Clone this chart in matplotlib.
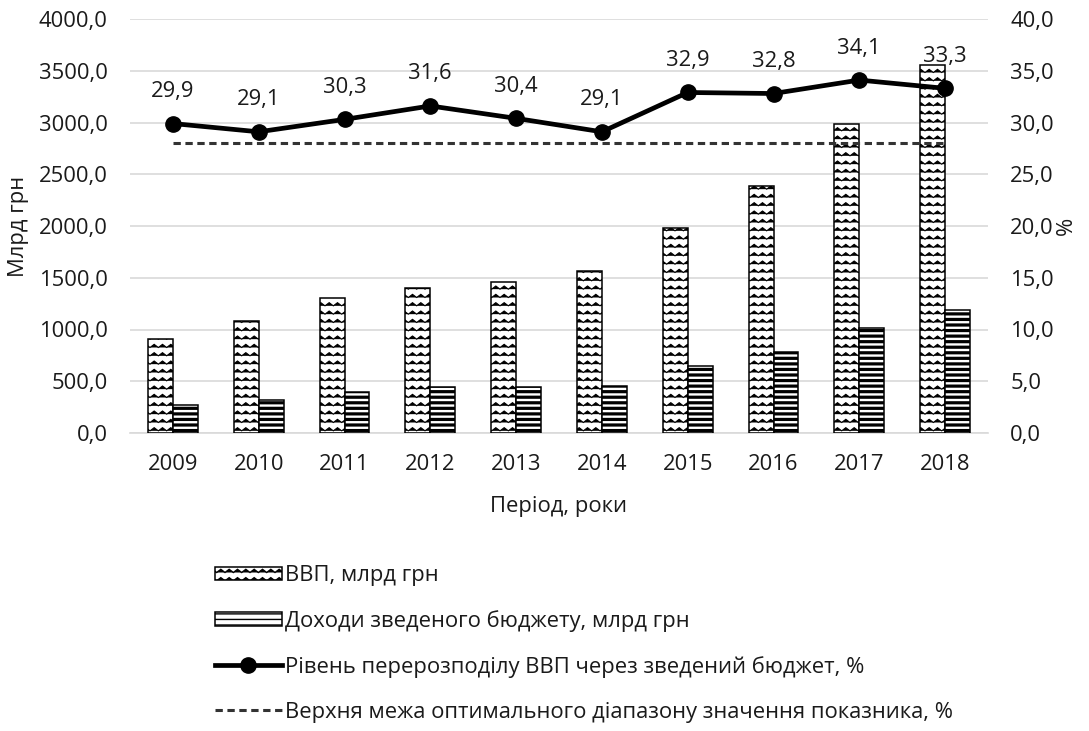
import warnings
import numpy as np
import matplotlib
matplotlib.use("Agg")
import matplotlib.pyplot as plt
import matplotlib.hatch as mhatch
from matplotlib.path import Path
from matplotlib.ticker import FuncFormatter, MultipleLocator

warnings.filterwarnings("ignore")

# ---------------- data ----------------
years = ["2009", "2010", "2011", "2012", "2013", "2014", "2015", "2016", "2017", "2018"]
gdp = [913, 1082, 1302, 1405, 1455, 1567, 1979, 2383, 2983, 3559]
revenues = [273, 315, 399, 443, 443, 456, 652, 782, 1017, 1185]
redistribution = [29.9, 29.1, 30.3, 31.6, 30.4, 29.1, 32.9, 32.8, 34.1, 33.3]
upper_limit = [28.0] * len(years)

label_gdp = "ВВП, млрд грн"
label_rev = "Доходи зведеного бюджету, млрд грн"
label_red = "Рівень перерозподілу ВВП через зведений бюджет, %"
label_lim = "Верхня межа оптимального діапазону значення показника, %"


# ---------------- custom zigzag hatch ----------------
class ZigZagHatch(mhatch.HatchPatternBase):
    def __init__(self, hatch, density):
        self.num_rows = int(hatch.count('z') * density)
        self.periods = 12
        self.pts = 2 * self.periods + 1
        self.num_vertices = self.num_rows * self.pts

    def set_vertices_and_codes(self, vertices, codes):
        if self.num_rows == 0:
            return
        step = 1.0 / self.num_rows
        xs = np.linspace(0, 1, self.pts)
        amp = step * 0.38
        ys = np.where(np.arange(self.pts) % 2 == 1, amp, 0.0)
        for i in range(self.num_rows):
            y0 = i * step + step * 0.3
            sl = slice(i * self.pts, (i + 1) * self.pts)
            vertices[sl, 0] = xs
            vertices[sl, 1] = y0 + ys
            codes[sl] = Path.LINETO
            codes[i * self.pts] = Path.MOVETO


if ZigZagHatch not in mhatch._hatch_types:
    mhatch._hatch_types.append(ZigZagHatch)

FONT = "Open Sans"
plt.rcParams["font.family"] = [FONT, "DejaVu Sans"]
TXT = "#1a1a1a"
FS = 15.8

fig = plt.figure(figsize=(10.89, 7.31), dpi=100)
ax = fig.add_axes([130 / 1089, 1 - 433 / 731, 858 / 1089, (433 - 19) / 731])
ax2 = ax.twinx()

x = np.arange(len(years))
bw = 0.29
bars1 = ax.bar(x - bw / 2, gdp, bw, facecolor="white", edgecolor="black",
               linewidth=1.1, hatch="zz", label=label_gdp, zorder=3)
bars2 = ax.bar(x + bw / 2, revenues, bw, facecolor="white", edgecolor="black",
               linewidth=1.1, hatch="---", label=label_rev, zorder=3)
for b in bars1:
    if hasattr(b, "set_hatch_linewidth"):
        b.set_hatch_linewidth(0.8)
for b in bars2:
    if hasattr(b, "set_hatch_linewidth"):
        b.set_hatch_linewidth(2.3)

ax.set_ylim(0, 4000)
ax.set_xlim(-0.5, len(years) - 0.5)
ax.yaxis.set_major_locator(MultipleLocator(500))
ax.yaxis.set_major_formatter(FuncFormatter(lambda v, p: f"{v:.1f}".replace(".", ",")))
ax.grid(axis="y", color="#d9d9d9", linewidth=1.2, zorder=0)
ax.set_axisbelow(True)
ax.set_xticks(x)
ax.set_xticklabels(years)
for s in ["top", "left", "right"]:
    ax.spines[s].set_visible(False)
ax.spines["bottom"].set_color("#d9d9d9")
ax.spines["bottom"].set_linewidth(1.2)
ax.tick_params(axis="both", length=0, labelsize=FS, labelcolor=TXT)
ax.tick_params(axis="y", pad=16)
ax.tick_params(axis="x", pad=15)
ax.set_ylabel("Млрд грн", fontsize=FS, color=TXT)
ax.yaxis.set_label_coords(-0.118, 0.5)
ax.set_xlabel("Період, роки", fontsize=FS, color=TXT, labelpad=15)

line1, = ax2.plot(x, redistribution, color="black", linewidth=3.4, marker="o",
                  markersize=11, label=label_red, zorder=5)
line2, = ax2.plot(x, upper_limit, color="#333333", linewidth=2.2,
                  linestyle=(0, (2.4, 1.5)), label=label_lim, zorder=4)
for xi, v in zip(x, redistribution):
    ax2.annotate(f"{v:.1f}".replace(".", ","), (xi, v), xytext=(0, 23),
                 textcoords="offset points", ha="center", va="center",
                 fontsize=FS, color=TXT)
ax2.set_ylim(0, 40)
ax2.yaxis.set_major_locator(MultipleLocator(5))
ax2.yaxis.set_major_formatter(FuncFormatter(lambda v, p: f"{v:.1f}".replace(".", ",")))
for s in ["top", "left", "right", "bottom"]:
    ax2.spines[s].set_visible(False)
ax2.tick_params(axis="y", length=0, labelsize=FS, labelcolor=TXT, pad=16)
ax2.set_ylabel("%", fontsize=FS, color=TXT)
ax2.yaxis.set_label_coords(1.079, 0.5)

leg = fig.legend([bars1, bars2, line1, line2], [label_gdp, label_rev, label_red, label_lim],
                 loc="upper left", bbox_to_anchor=(215 / 1089, 1 - 565 / 731),
                 frameon=False, fontsize=FS, labelcolor=TXT, borderpad=0,
                 borderaxespad=0, handlelength=3.05, handleheight=0.55,
                 handletextpad=0.15, labelspacing=1.09)

fig.savefig("out.png", dpi=100)
